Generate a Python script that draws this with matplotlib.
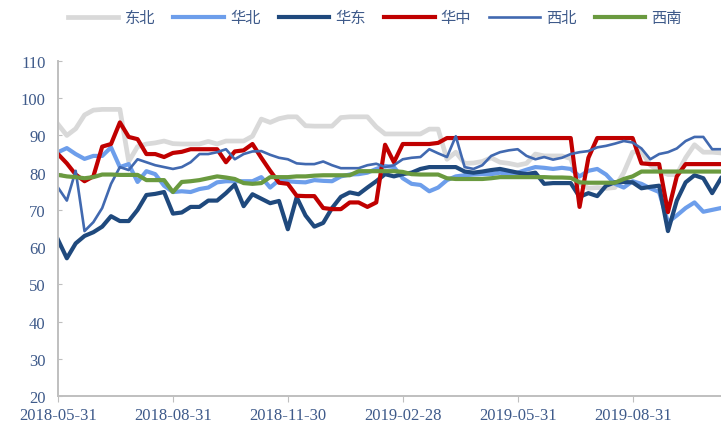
import matplotlib
matplotlib.use("Agg")
import matplotlib.pyplot as plt

# 周度数据
tick_labels = ["2018-05-31", "2018-08-31", "2018-11-30", "2019-02-28", "2019-05-31", "2019-08-31"]

dongbei = [93, 90, 91.8, 95.5, 96.8, 97, 97, 97, 83, 87,
           87.7, 88, 88.5, 87.8, 87.7, 87.7, 87.7, 88.4, 87.7, 88.5,
           88.5, 88.5, 89.8, 94.4, 93.5, 94.5, 95, 95, 92.6, 92.5,
           92.5, 92.5, 94.8, 95, 95, 95, 92.3, 90.4, 90.4, 90.4,
           90.4, 90.4, 91.7, 91.7, 83.6, 85.5, 82.5, 82.6, 83, 84,
           82.8, 82.5, 82, 82.5, 85, 84.5, 84.5, 84.5, 83.8, 77,
           75.8, 76, 75.8, 76, 80, 85.5, 85.8, 82, 80.5, 79.5,
           79.5, 84, 87.5, 85.5, 85.5, 85.3]

huabei = [85.5, 86.6, 85, 83.7, 84.5, 84.5, 86.8, 81.5, 82.3, 77.5,
          80.4, 79.6, 76.5, 74.8, 75, 74.8, 75.6, 76, 77.4, 77.7,
          77.7, 77.7, 77.7, 78.8, 76, 78, 77.7, 77.5, 77.4, 78,
          77.8, 77.7, 79, 79.5, 79.6, 80, 81, 81.8, 81.5, 78.5,
          77, 76.7, 75, 76, 78, 79, 79.3, 79.5, 79.6, 79.6,
          80, 79.6, 80, 80.8, 81.5, 81.3, 81, 81.3, 81, 79,
          80.5, 81, 79.5, 77, 76, 77.7, 77, 75.8, 74.8, 66.7,
          68.5, 70.5, 72, 69.5, 70, 70.5]

huadong = [62, 57, 61, 63, 64, 65.5, 68.3, 67, 67, 70,
           74, 74.3, 74.8, 69, 69.3, 70.8, 70.8, 72.5, 72.5, 74.5,
           76.8, 71, 74.2, 73, 71.8, 72.4, 64.8, 73.4, 68.5, 65.5,
           66.5, 70.5, 73.5, 74.7, 74.2, 76, 77.7, 79.6, 79, 79.6,
           80, 81, 81.5, 81.5, 81.5, 81.5, 80.3, 80, 80.3, 80.7,
           81, 80.5, 80, 79.6, 80, 77, 77.2, 77.2, 77.2, 73.5,
           74.5, 73.7, 76.5, 77.4, 77.5, 77.4, 75.8, 76.2, 76.5, 64.3,
           72.5, 77.4, 79.3, 78.5, 74.5, 78.5]

huazhong = [85, 82.5, 79.5, 77.7, 79, 87, 87.7, 93.5, 89.6, 89,
            85, 85, 84.2, 85.3, 85.6, 86.3, 86.3, 86.3, 86.3, 82.8,
            85.7, 86, 87.7, 84, 80.5, 77.3, 77, 73.8, 73.7, 73.7,
            70.5, 70.2, 70.2, 72, 72, 70.8, 72, 87.5, 82.8, 87.7,
            87.7, 87.7, 87.7, 88, 89.3, 89.3, 89.3, 89.3, 89.3, 89.3,
            89.3, 89.3, 89.3, 89.3, 89.3, 89.3, 89.3, 89.3, 89.3, 70.8,
            84, 89.3, 89.3, 89.3, 89.3, 89.3, 82.5, 82.3, 82.3, 69.4,
            79, 82.3, 82.3, 82.3, 82.3, 82.3]

xibei = [76, 72.5, 80.5, 64.3, 66.7, 70.5, 77, 81.5, 80.7, 83.6,
         82.8, 82, 81.5, 81, 81.5, 82.8, 85, 85, 85.5, 86.3,
         83.6, 85, 85.7, 85.8, 84.8, 84, 83.6, 82.5, 82.3, 82.3,
         83, 82, 81.2, 81.2, 81.2, 82, 82.4, 81.5, 82, 83.6,
         84, 84.2, 86.3, 85.2, 84.2, 89.8, 81.5, 81, 82, 84.5,
         85.5, 86, 86.3, 84.5, 83.6, 84.2, 83.5, 84, 85, 85.5,
         85.8, 86.8, 87.2, 87.8, 88.5, 88.1, 86.5, 83.6, 85, 85.5,
         86.5, 88.5, 89.6, 89.6, 86.3, 86.3]

xinan = [79.4, 79, 78.8, 78.5, 78.8, 79.5, 79.5, 79.4, 79.4, 79.4,
         78, 78, 78, 74.8, 77.5, 77.7, 78, 78.5, 79, 78.7,
         78.3, 77.2, 77, 77.2, 78.8, 78.8, 78.8, 79, 79, 79.2,
         79.3, 79.3, 79.3, 79.3, 80.4, 80.4, 80.4, 80.4, 80.4, 80.2,
         79.6, 79.5, 79.5, 79.5, 78.5, 78.3, 78.3, 78.3, 78.3, 78.5,
         78.8, 78.8, 78.8, 78.8, 78.8, 78.8, 78.7, 78.7, 78.6, 77.4,
         77.3, 77.3, 77.3, 77.3, 78.3, 79, 80.3, 80.3, 80.3, 80.3,
         80.3, 80.3, 80.3, 80.3, 80.3, 80.3]

names = ["东北", "华北", "华东", "华中", "西北", "西南"]
colors = ["#D9D9D9", "#6D9EEB", "#1F497D", "#C00000", "#4169B0", "#6A9A3F"]
widths = [3.4, 3.0, 3.0, 3.0, 1.9, 3.0]
series = [dongbei, huabei, huadong, huazhong, xibei, xinan]

plt.rcParams['font.family'] = ['Liberation Serif', 'Noto Sans CJK SC']
txt = "#3E5A8A"

fig = plt.figure(figsize=(7.21, 4.27), dpi=100)
ax = fig.add_axes([58 / 721, 30 / 427, 1 - 58 / 721, 335 / 427])

x = list(range(len(dongbei)))
for s, name, c, w in zip(series, names, colors, widths):
    ax.plot(x, s, color=c, lw=w, label=name, solid_joinstyle='round')

ax.set_xlim(0, len(x) - 1)
ax.set_ylim(20, 110)
ax.set_yticks(range(20, 111, 10))
ax.set_xticks([0, 13, 26, 39, 52, 65])
ax.set_xticklabels(tick_labels)

for sp in ["top", "right"]:
    ax.spines[sp].set_visible(False)
for sp in ["left", "bottom"]:
    ax.spines[sp].set_color("#BFBFBF")
    ax.spines[sp].set_linewidth(1.4)

ax.tick_params(axis="y", direction="in", length=3, color="#BFBFBF",
               labelsize=12, labelcolor=txt, pad=9)
ax.tick_params(axis="x", direction="out", length=4, color="#BFBFBF",
               labelsize=12, labelcolor=txt, pad=4)

leg = fig.legend(loc="center", bbox_to_anchor=(0.52, 0.957), ncol=6, frameon=False,
                 handlelength=3.3, handletextpad=0.4, columnspacing=1.2,
                 prop={"family": ["Noto Sans CJK SC"], "size": 11})
for t in leg.get_texts():
    t.set_color(txt)

fig.savefig("out.png", dpi=100)
